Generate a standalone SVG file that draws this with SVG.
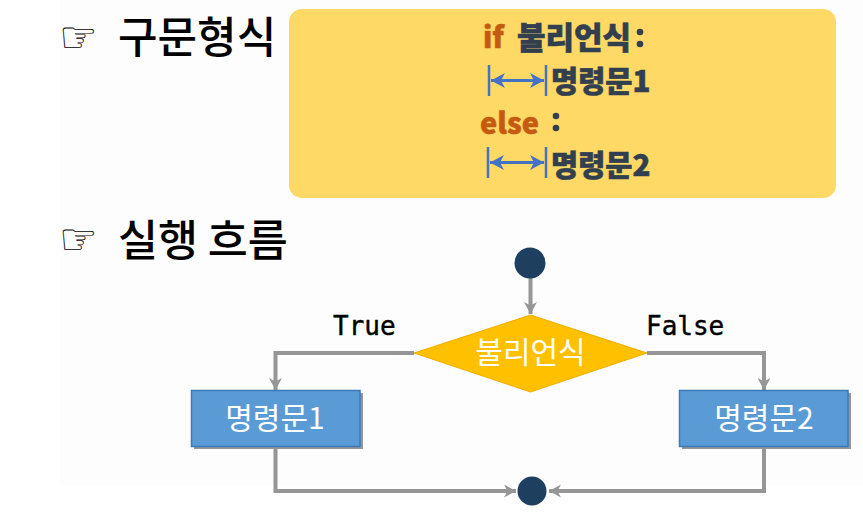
<svg xmlns="http://www.w3.org/2000/svg" width="863" height="512" viewBox="0 0 863 512">
<style>
.h{font-family:"Noto Sans CJK KR","Noto Sans",sans-serif;font-size:43px;font-weight:500;fill:#000}
.icon{font-family:"DejaVu Sans",sans-serif;font-size:43px;fill:#000}
.code{font-family:"Noto Sans CJK KR",sans-serif;font-size:29.500px;font-weight:900;fill:#323f4f;stroke:#323f4f;stroke-width:.6}
.kw{font-family:"Noto Sans CJK KR",sans-serif;font-size:29px;font-weight:900;fill:#c55a11;stroke:#c55a11;stroke-width:.5}
.lab{font-family:"DejaVu Sans Mono",monospace;font-size:26px;fill:#000;stroke:#000;stroke-width:.4}
.nt{font-family:"Noto Sans CJK KR",sans-serif;font-size:30px;fill:#fff;text-anchor:middle}
.c{fill:none;stroke:#969696;stroke-width:4}
.t{fill:none;stroke:#4472c4;stroke-width:3}
.tick{fill:none;stroke:#4472c4;stroke-width:2.5}
.box{fill:#5b9bd5;stroke:#3a7abb;stroke-width:1.5}
.dot{fill:#1f3f60}
</style>
<defs>
<marker id="a" markerUnits="userSpaceOnUse" markerWidth="14" markerHeight="14" refX="12" refY="6.5" orient="auto"><path d="M0 0L12 6.500L0 13L3.500 6.500Z" fill="#969696"/></marker>
<marker id="b" markerUnits="userSpaceOnUse" markerWidth="16" markerHeight="16" refX="14" refY="7.500" orient="auto"><path d="M0 0L14 7.500L0 15L4 7.500Z" fill="#4472c4"/></marker>
<marker id="bs" markerUnits="userSpaceOnUse" markerWidth="16" markerHeight="16" refX="0" refY="7.500" orient="auto"><path d="M14 0L0 7.500L14 15L10 7.500Z" fill="#4472c4"/></marker>
</defs>
<rect width="863" height="512" fill="#fff"/>
<rect x="60" y="0" width="803" height="486" fill="#fdfdfd"/>
<g id="title-syntax"><text class="icon" x="59" y="52">☞</text><text class="h" x="118" y="53">구문형식</text></g>
<g id="title-flow"><text class="icon" x="59" y="254">☞</text><text class="h" x="118" y="256" style="font-size:43.500px">실행 흐름</text></g>
<g id="syntax-box">
<rect x="289" y="9" width="547" height="189" rx="13" fill="#ffd966"/>
<text class="kw" x="483" y="48">if</text><text class="code" x="517" y="49" style="font-size:31px">불리언식</text><circle cx="640" cy="32" r="3.300" fill="#323f4f"/><circle cx="640" cy="44" r="3.300" fill="#323f4f"/>
<path class="tick" d="M489 65V96M546 65V96"/><path class="t" d="M491 80.500H544" marker-start="url(#bs)" marker-end="url(#b)"/>
<text class="code" x="551" y="92">명령문1</text>
<text class="kw" x="480" y="134">else</text><circle cx="556" cy="116" r="3.300" fill="#323f4f"/><circle cx="556" cy="128" r="3.300" fill="#323f4f"/>
<path class="tick" d="M488 147V178M546 147V178"/><path class="t" d="M490 162.500H544" marker-start="url(#bs)" marker-end="url(#b)"/>
<text class="code" x="551" y="176">명령문2</text>
</g>
<g id="connectors">
<path class="c" d="M530.500 278V314" marker-end="url(#a)"/>
<path class="c" d="M414 353H275.500V390" marker-end="url(#a)"/>
<path class="c" d="M647 353H764V390" marker-end="url(#a)"/>
<path class="c" d="M275.500 446V491H516" marker-end="url(#a)"/>
<path class="c" d="M764 446V491H549" marker-end="url(#a)"/>
</g>
<g id="label-true"><text class="lab" x="333" y="335">True</text></g>
<g id="label-false"><text class="lab" x="646" y="335">False</text></g>
<g id="start"><circle class="dot" cx="530" cy="263" r="15.500"/></g>
<g id="end"><circle class="dot" cx="532" cy="491" r="14.500"/></g>
<g id="decision"><path d="M530.500 315L647 353L530.500 392L414 353Z" fill="#ffc000" stroke="#f0ad00"/><text class="nt" x="530.500" y="363">불리언식</text></g>
<g id="stmt1"><rect x="194" y="393" width="169" height="56" fill="#969696"/><rect class="box" x="191.500" y="390.500" width="168.500" height="56"/><text class="nt" x="275" y="429">명령문1</text></g>
<g id="stmt2"><rect x="682" y="393" width="169" height="56" fill="#969696"/><rect class="box" x="679.500" y="390.500" width="168.500" height="56"/><text class="nt" x="764" y="429">명령문2</text></g>
</svg>
